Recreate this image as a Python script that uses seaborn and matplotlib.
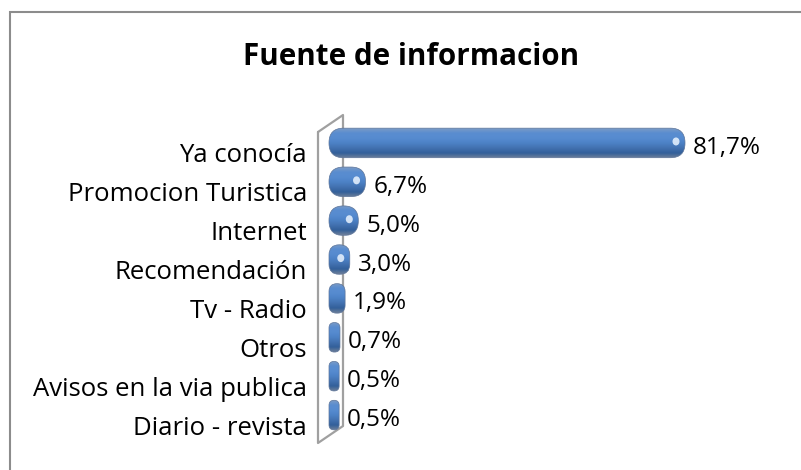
import numpy as np
import matplotlib
matplotlib.use('Agg')
import matplotlib.pyplot as plt
import matplotlib.transforms as mtransforms
from matplotlib.patches import FancyBboxPatch, Rectangle, Ellipse
from matplotlib.lines import Line2D
from matplotlib.colors import LinearSegmentedColormap
import pandas as pd
import seaborn as sns

# datos
fuentes = ['Ya conocía', 'Promocion Turistica', 'Internet', 'Recomendación',
           'Tv - Radio', 'Otros', 'Avisos en la via publica', 'Diario - revista']
porcentajes = [81.7, 6.7, 5.0, 3.0, 1.9, 0.7, 0.5, 0.5]
titulo = 'Fuente de informacion'

df = pd.DataFrame({'fuente': fuentes, 'pct': porcentajes})

sns.set_style('white')
plt.rcParams['font.family'] = ['Open Sans', 'DejaVu Sans']

W, H = 801, 470
fig = plt.figure(figsize=(W / 100, H / 100), dpi=100)

# axes in pixel terms (value 0 sits at x0_px)
x0_px = 333
ax_l, ax_r = 318, 700
ax_top, ax_bot = 123.5, 434.5
sx = 348 / 81.7                        # px per x unit
xmin = -(x0_px - ax_l) / sx
xmax = (ax_r - x0_px) / sx
sy = (ax_bot - ax_top) / len(fuentes)  # px per category

ax = fig.add_axes([ax_l / W, 1 - ax_bot / H, (ax_r - ax_l) / W, (ax_bot - ax_top) / H])

sns.barplot(data=df, x='pct', y='fuente', orient='h', color='#4F81BD',
            width=0.76, ax=ax)

cmap = LinearSegmentedColormap.from_list(
    'cil', ['#7D9CC6', '#5A8DD0', '#568BD0', '#4D82C6', '#4271B0', '#33609A', '#6F8099'])
grad = np.linspace(0, 1, 256).reshape(-1, 1)

cap = 4 / sx
for p in list(ax.patches):
    x0, y0, w, h = p.get_x(), p.get_y(), p.get_width(), p.get_height()
    p.set_visible(False)
    left = x0 - cap
    width = w + 2 * cap
    r_px = min(width * sx, h * sy) / 2 * 0.98
    pill = FancyBboxPatch((left, y0), width, h,
                          boxstyle=f'round,pad=0,rounding_size={r_px / sx}',
                          mutation_aspect=sx / sy,
                          facecolor='none', edgecolor='#5C7499', lw=0.5, zorder=3)
    ax.add_patch(pill)
    im = ax.imshow(grad, extent=[left, left + width, y0 + h, y0], aspect='auto',
                   cmap=cmap, zorder=2, interpolation='bilinear')
    im.set_clip_path(pill)
    if width * sx > 20:
        ax.add_patch(Ellipse((left + width - 9 / sx, y0 + h * 0.45), 7 / sx, 8 / sy,
                             facecolor='#EAF4FF', alpha=0.85, lw=0, zorder=4))

ax.set_xlim(xmin, xmax)
ax.set_ylim(len(fuentes) - 0.5, -0.5)

# etiquetas de valor
for i, v in enumerate(porcentajes):
    ax.annotate(f'{v:.1f}%'.replace('.', ','), (v, i), xytext=(12 * 0.72, -5 * 0.72),
                textcoords='offset points', ha='left', va='center', fontsize=17.5,
                color='black', annotation_clip=False)

ax.set_xlabel('')
ax.set_ylabel('')
ax.set_xticks([])
ax.tick_params(axis='y', length=0, pad=(x0_px - 307) * 0.72 - (x0_px - ax_l) * 0.72,
               labelsize=18.5)
off = mtransforms.ScaledTranslation(0, -10 / 100, fig.dpi_scale_trans)
for lab in ax.get_yticklabels():
    lab.set_transform(lab.get_transform() + off)
    lab.set_color('black')
for s in ax.spines.values():
    s.set_visible(False)
ax.patch.set_alpha(0)

# pared 3D
px = [318, 318, 343, 343, 318]
py = [132, 443, 426, 115, 132]
ax.add_line(Line2D([x / W for x in px], [1 - y / H for y in py], transform=fig.transFigure,
                   color='#A0A0A0', lw=1.6, clip_on=False, zorder=1))

# marco
fig.patches.append(Rectangle((10 / W, -0.1), 1.2, 1 - 12 / H + 0.1, transform=fig.transFigure,
                             fill=False, edgecolor='#8C8C8C', lw=1.5))

fig.text(411 / W, 1 - 57 / H, titulo, ha='center', va='center', fontsize=21.3,
         fontweight='bold', color='black')

fig.savefig('out.png', dpi=100)
